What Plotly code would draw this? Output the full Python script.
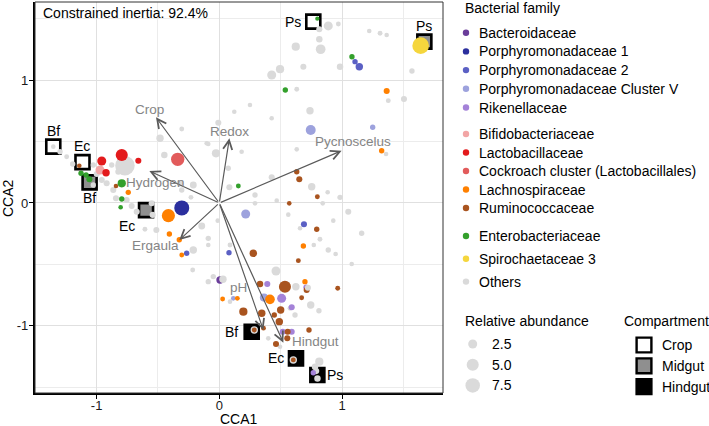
import numpy as np
import plotly.graph_objects as go

# ---------------- data ----------------
families = [
    "Bacteroidaceae", "Porphyromonadaceae 1", "Porphyromonadaceae 2",
    "Porphyromonadaceae Cluster V", "Rikenellaceae",
    "Bifidobacteriaceae", "Lactobacillaceae", "Cockroach cluster (Lactobacillales)",
    "Lachnospiraceae", "Ruminococcaceae",
    "Enterobacteriaceae", "Spirochaetaceae 3", "Others",
]
family_colors = [
    "#6a3d9a", "#2b2f9e", "#5b60c4", "#9da2dd", "#a482d8",
    "#f2a5a5", "#e31a1c", "#e25b5b", "#ff8000", "#a9541f",
    "#33a02c", "#f5d63d", "#dadada",
]
legend_groups = [5, 5, 3]

# points per family: (CCA1, CCA2, relative abundance)
bacteroidaceae_pts = [(0.006, -0.628, 1.5)]
porph1_pts = [(-0.306, -0.040, 8.0)]
porph2_pts = [(1.106, 1.152, 0.5), (1.141, 1.111, 1.5), (0.690, -0.174, 0.8),
              (-0.266, -0.410, 0.5), (0.079, -0.405, 0.5)]
porphV_pts = [(0.745, 0.595, 3.2), (1.250, 0.617, 0.5), (0.215, -0.090, 2.5),
              (0.364, -0.771, 2.0), (0.114, -0.777, 0.2)]
rikenella_pts = [(0.391, -0.660, 0.8), (0.508, -0.777, 2.5), (0.590, -0.850, 0.8),
                 (0.517, -1.049, 0.8), (0.590, -1.049, 0.8), (0.766, -1.383, 0.5),
                 (0.707, -0.687, 0.5)]
bifido_pts = [(-0.972, 0.269, 2.5)]
lacto_pts = [(-0.795, 0.391, 5.0), (-0.958, 0.342, 2.5), (-0.660, 0.345, 0.8),
             (-0.923, 0.247, 1.5)]
cockroach_pts = [(-0.339, 0.356, 6.2)]
lachno_pts = [(1.364, 0.913, 0.8), (1.323, 0.426, 0.5), (-0.742, 0.087, 0.5),
              (-0.415, -0.103, 6.0), (-0.407, -0.253, 0.5), (-0.306, -0.424, 0.3),
              (0.685, -0.350, 0.5), (0.698, -0.641, 0.5), (0.413, -0.785, 3.0),
              (0.027, -0.782, 0.3), (0.147, -0.777, 0.3), (-0.326, -0.300, 0.5)]
rumino_pts = [(-1.141, 0.304, 0.2), (-0.842, 0.139, 0.2), (0.631, 0.255, 0.5),
              (0.652, 0.193, 0.8), (0.799, 0.051, 0.3), (0.570, -0.003, 0.2),
              (0.794, -0.214, 0.5), (0.277, -0.410, 1.5), (0.644, -0.470, 0.3),
              (0.332, -0.660, 1.0), (0.535, -0.682, 5.0), (0.712, -0.709, 0.8),
              (0.965, -0.695, 0.3), (0.671, -0.772, 0.3), (0.196, -0.886, 2.0),
              (0.346, -0.899, 1.5), (0.500, -0.872, 1.5), (0.489, -0.967, 1.5),
              (0.448, -0.913, 0.5), (0.731, -1.035, 0.5), (0.557, -1.049, 0.8),
              (0.554, -1.103, 0.8), (0.462, -1.149, 0.8), (0.285, -1.035, 0.3),
              (0.603, -1.279, 0.3), (0.360, -1.020, 0.3)]
entero_pts = [(0.799, 1.502, 0.1), (1.081, 1.192, 0.5), (0.538, 0.921, 0.5),
              (0.155, 0.139, 0.3), (-0.795, 0.160, 2.0), (-1.127, 0.242, 0.5),
              (-1.086, 0.228, 0.5), (-1.059, 0.193, 0.8), (-0.795, 0.033, 0.5),
              (-0.804, -0.035, 0.2)]
spiro_pts = [(1.641, 1.282, 10.0)]
others_pts = [
    (0.888, 1.443, 2.5), (0.970, 1.459, 0.3), (0.815, 1.416, 0.8), (0.815, 1.334, 1.0),
    (0.826, 1.253, 3.0), (0.623, 1.274, 2.0), (0.685, 1.111, 0.8), (0.495, 1.090, 2.0),
    (0.427, 1.043, 2.5), (0.631, 0.927, 0.3), (0.739, 0.752, 1.5), (0.427, 0.690, 0.2),
    (0.250, 0.799, 0.2), (0.984, 1.111, 1.0), (1.222, 1.402, 0.2), (1.310, 1.383, 0.3),
    (1.364, 1.369, 0.2), (1.570, 1.076, 0.5), (1.505, 0.848, 0.8), (1.377, 0.834, 0.3),
    (0.122, 0.744, 0.2), (-0.008, 0.654, 0.8), (-0.306, 0.603, 0.3), (-0.483, 0.527, 1.5),
    (-0.103, 0.487, 0.2), (-0.027, 0.405, 2.0), (-0.448, 0.391, 1.0), (-0.090, 0.481, 0.2),
    (0.182, 0.418, 0.2), (0.631, 0.437, 0.2), (1.359, 0.399, 0.2), (0.427, 0.209, 0.8),
    (0.082, 0.128, 0.8), (0.753, 0.133, 1.5), (0.883, 0.087, 0.2), (0.984, 0.046, 0.5),
    (0.468, 0.019, 0.2), (0.291, -0.003, 0.2), (0.843, -0.003, 0.2), (1.051, -0.071, 0.8),
    (0.562, -0.095, 0.2), (0.073, 0.283, 0.5), (-0.212, 0.147, 1.2), (-0.143, -0.187, 1.2),
    (-0.013, -0.144, 0.2), (0.658, -0.206, 0.2), (-0.306, 0.106, 0.5), (0.291, 0.065, 0.5),
    (1.160, -0.247, 0.5), (0.929, -0.144, 0.2),
    (-1.353, 0.459, 0.2), (-1.298, 0.418, 0.5), (-1.244, 0.377, 0.3), (-1.195, 0.318, 0.5),
    (-1.027, 0.310, 0.5), (-0.877, 0.310, 0.5), (-0.999, 0.236, 0.8), (-0.958, 0.187, 0.8),
    (-0.918, 0.161, 0.8), (-0.864, 0.106, 0.8), (-1.027, 0.147, 0.5), (-0.842, 0.038, 0.8),
    (-0.755, 0.024, 0.8), (-0.714, -0.024, 0.8), (-0.673, -0.071, 0.8), (-0.551, -0.002, 0.8),
    (-0.543, -0.097, 0.8), (-0.320, 0.160, 1.0), (-0.231, 0.046, 0.3), (-0.823, 0.255, 0.8),
    (-0.769, 0.304, 14.0), (-0.606, -0.214, 0.3), (-0.513, -0.220, 0.8),
    (-0.212, -0.383, 1.5), (-0.090, -0.288, 0.5), (-0.090, -0.342, 0.2), (-0.217, -0.546, 0.3),
    (-0.090, -0.641, 0.5), (-0.049, -0.600, 0.5), (0.087, -0.342, 0.3), (0.462, -0.554, 2.5),
    (0.888, -0.383, 0.5), (1.079, -0.497, 0.2), (0.948, -0.416, 0.2), (0.770, -0.342, 0.2),
    (0.820, -0.296, 0.3), (0.745, -0.831, 1.5), (0.812, -0.878, 0.5), (0.624, -0.682, 1.5),
    (0.617, -0.913, 0.5), (0.576, -0.858, 0.3), (0.087, -0.804, 0.2), (0.399, -1.103, 0.2),
    (0.495, -1.171, 0.2), (0.285, -1.035, 1.5), (0.603, -1.279, 1.5), (0.815, -1.293, 2.0),
    (0.780, -1.334, 1.0), (0.800, -1.430, 1.0), (0.790, -1.370, 0.8),
]
others_over_pts = [(0.030, -0.622, 1.5), (0.722, -0.690, 0.8)]

family_points = [bacteroidaceae_pts, porph1_pts, porph2_pts, porphV_pts, rikenella_pts,
                 bifido_pts, lacto_pts, cockroach_pts, lachno_pts, rumino_pts,
                 entero_pts, spiro_pts, others_pts]

# samples (compartment boxes)
sample_x = [0.766, 1.671, -1.353, -1.115, -1.057, -0.597, 0.264, 0.625, 0.799]
sample_y = [1.478, 1.315, 0.459, 0.333, 0.168, -0.058, -1.049, -1.266, -1.402]
sample_comp = ["Crop", "Midgut", "Crop", "Crop", "Midgut", "Midgut", "Hindgut", "Hindgut", "Hindgut"]
sample_label = ["Ps", "Ps", "Bf", "Ec", "Bf", "Ec", "Bf", "Ec", "Ps"]
sample_label_side = ["left", "top", "top", "top", "bottom", "bottomleft", "left", "left", "right"]
compartments = ["Crop", "Midgut", "Hindgut"]
compartment_fill = {"Crop": "white", "Midgut": "#8f8f8f", "Hindgut": "black"}

# environmental vectors
arrow_names = ["Crop", "Redox", "Pycnoscelus", "Hydrogen", "Ergaula", "pH", "Hindgut"]
arrow_x = [-0.516, 0.082, 0.997, -0.570, -0.326, 0.359, 0.522]
arrow_y = [0.698, 0.527, 0.426, 0.261, -0.302, -1.035, -1.138]
arrow_label_x = [-0.570, 0.087, 1.092, -0.516, -0.524, 0.155, 0.785]
arrow_label_y = [0.758, 0.581, 0.505, 0.165, -0.350, -0.687, -1.130]

size_legend_values = [2.5, 5.0, 7.5]
constrained_inertia = 92.4

# ---------------- layout helpers ----------------
W, H = 709, 426
ML, MR, MT, MB = 35, 266, 2, 33
PW, PH = W - ML - MR, H - MT - MB
FONT = "Liberation Sans, Arial, sans-serif"


def px(xp):
    return (xp - ML) / PW


def py(yp):
    return (H - MB - yp) / PH


def diam(a):
    return np.sqrt(16 + 26 * np.asarray(a, dtype=float))


def paper_text(x, y, text, size=14, color="black", xanchor="left", **kw):
    return dict(x=px(x), y=py(y), xref="paper", yref="paper", text=text, showarrow=False,
                xanchor=xanchor, yanchor="middle",
                font=dict(family=FONT, size=size, color=color), **kw)


fig = go.Figure()

# sample boxes (under points)
for comp in compartments:
    idx = [i for i, c in enumerate(sample_comp) if c == comp]
    fig.add_trace(go.Scatter(
        x=[sample_x[i] for i in idx], y=[sample_y[i] for i in idx], mode="markers",
        marker=dict(symbol="square", size=14, color=compartment_fill[comp], opacity=1,
                    line=dict(color="black", width=2.6)),
        showlegend=False, hoverinfo="skip"))

# points: Others first, then colored families
order = [12] + list(range(12))
for k in order:
    pts = family_points[k]
    fig.add_trace(go.Scatter(
        x=[p[0] for p in pts], y=[p[1] for p in pts], mode="markers",
        marker=dict(size=diam([p[2] for p in pts]), color=family_colors[k], opacity=1,
                    line=dict(width=0)),
        name=families[k], showlegend=False))
fig.add_trace(go.Scatter(
    x=[p[0] for p in others_over_pts], y=[p[1] for p in others_over_pts], mode="markers",
    marker=dict(size=diam([p[2] for p in others_over_pts]), color=family_colors[12], opacity=1,
                line=dict(width=0)),
    showlegend=False))

annotations = []
shapes = []

# arrows
for name, ax_, ay_, lx, ly in zip(arrow_names, arrow_x, arrow_y, arrow_label_x, arrow_label_y):
    annotations.append(dict(x=ax_, y=ay_, ax=0, ay=0, xref="x", yref="y", axref="x", ayref="y",
                            text="", showarrow=True, arrowhead=5, arrowsize=1.5,
                            arrowwidth=1.2, arrowcolor="#5a5a5a", standoff=0, startstandoff=0))
    annotations.append(dict(x=lx, y=ly, xref="x", yref="y", text=name, showarrow=False,
                            xanchor="center", yanchor="middle",
                            font=dict(family=FONT, size=13.5, color="#858585")))

# sample labels
shift = {"left": (-20, 0), "right": (18, 0), "top": (0, 16), "bottom": (0, -16),
         "bottomleft": (-19, -16)}
for sx, sy, lab, side in zip(sample_x, sample_y, sample_label, sample_label_side):
    dx, dy = shift[side]
    annotations.append(dict(x=sx, y=sy, xref="x", yref="y", text=lab, showarrow=False,
                            xanchor="center", yanchor="middle",
                            xshift=dx, yshift=dy, font=dict(family=FONT, size=14, color="black")))

# inertia text
annotations.append(paper_text(41, 13, f"Constrained inertia: {constrained_inertia}%"))

# axis titles
annotations.append(paper_text(239, 419, "CCA1", xanchor="center"))
annotations.append(paper_text(8, 198, "CCA2", xanchor="center", textangle=-90))

# panel border (thin top/right)
shapes.append(dict(type="rect", xref="paper", yref="paper", x0=0, x1=1, y0=0, y1=1,
                   line=dict(color="#333333", width=1), layer="above"))

# ---- legend: bacterial family ----
annotations.append(paper_text(463, 8, "Bacterial family"))
group_start = [32.7, 134.0, 236.0]
group_step = [18.7, 18.5, 22.8]
k = 0
for g, n in enumerate(legend_groups):
    for j in range(n):
        yy = group_start[g] + j * group_step[g]
        r = 3.2
        shapes.append(dict(type="circle", xref="paper", yref="paper",
                           x0=px(466 - r), x1=px(466 + r), y0=py(yy + r), y1=py(yy - r),
                           fillcolor=family_colors[k], line=dict(width=0)))
        annotations.append(paper_text(477, yy, families[k]))
        k += 1

# ---- legend: relative abundance ----
annotations.append(paper_text(463, 321, "Relative abundance"))
for j, v in enumerate(size_legend_values):
    yy = 344 + j * 20.7
    r = float(diam(v)) / 2
    shapes.append(dict(type="circle", xref="paper", yref="paper",
                       x0=px(472.7 - r), x1=px(472.7 + r), y0=py(yy + r), y1=py(yy - r),
                       fillcolor=family_colors[12], line=dict(width=0)))
    annotations.append(paper_text(490, yy, f"{v:.1f}"))

# ---- legend: compartment ----
annotations.append(paper_text(622, 321, "Compartment"))
for j, comp in enumerate(compartments):
    yy = 345 + j * 20.8
    h = 7.4
    shapes.append(dict(type="rect", xref="paper", yref="paper",
                       x0=px(644 - h), x1=px(644 + h), y0=py(yy + h), y1=py(yy - h),
                       fillcolor=compartment_fill[comp], line=dict(color="black", width=2.4)))
    annotations.append(paper_text(660, yy, comp))

axis_common = dict(
    showline=True, linecolor="black", linewidth=2.4, mirror=False,
    ticks="outside", ticklen=4, tickwidth=1.4, tickcolor="black",
    tickvals=[-1, 0, 1], ticktext=["-1", "0", "1"],
    tickfont=dict(family=FONT, size=13, color="#1a1a1a"),
    showgrid=True, gridcolor="#e0e0e0", gridwidth=1, zeroline=False,
    minor=dict(tickmode="linear", tick0=0, dtick=0.5, showgrid=True,
               gridcolor="#ececec", gridwidth=0.8),
)

fig.update_layout(
    width=W, height=H, margin=dict(l=ML, r=MR, t=MT, b=MB),
    paper_bgcolor="white", plot_bgcolor="white", showlegend=False,
    xaxis=dict(range=[-1.502, 1.823], ticklabelstandoff=-5, **axis_common),
    yaxis=dict(range=[-1.5485, 1.638], ticklabelstandoff=-2, **axis_common),
    annotations=annotations, shapes=shapes,
    font=dict(family=FONT),
)

fig.write_html("out.html", config={"displayModeBar": False},
               post_script="document.body.style.margin='0';document.body.style.overflow='hidden';")
